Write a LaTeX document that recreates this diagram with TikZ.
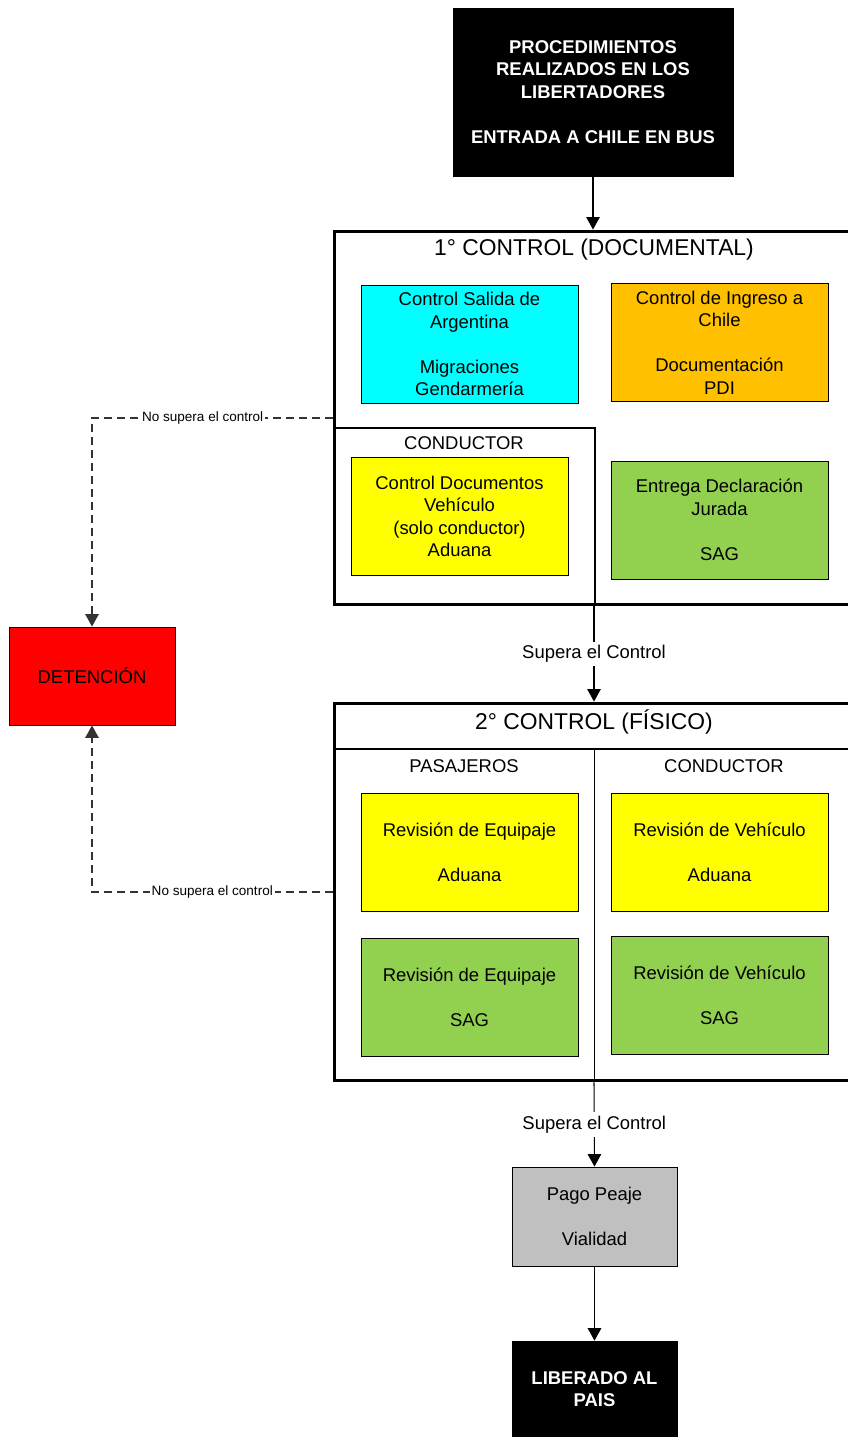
\documentclass[tikz,border=0pt]{standalone}
\usepackage{fontspec}
\setmainfont{Liberation Sans}
\usepackage{tikz}
\usetikzlibrary{positioning}
\usetikzlibrary{arrows.meta}

\definecolor{migcyan}{HTML}{00FFFF}
\definecolor{pdiorange}{HTML}{FFC000}
\definecolor{aduyellow}{HTML}{FFFF00}
\definecolor{saggreen}{HTML}{92D050}
\definecolor{detred}{HTML}{FF0000}
\definecolor{peajegray}{HTML}{C0C0C0}

\newcommand{\boxfont}{\fontsize{10.5pt}{12.8pt}\selectfont}
\newcommand{\titlefont}{\fontsize{13pt}{15pt}\selectfont}
\newcommand{\notefont}{\fontsize{7.7pt}{9pt}\selectfont}

\tikzset{
  agency/.style={draw, line width=0.5pt, minimum width=4.34cm, minimum height=2.36cm,
    align=center, font=\boxfont, inner sep=1pt},
  control/.style={draw, line width=1.7pt, minimum width=10.4cm},
  endbox/.style={draw, fill=black, text=white, align=center, font=\boxfont\bfseries},
  flow/.style={line width=0.6pt, -{Triangle[width=0.27cm,length=0.25cm]}},
  fail/.style={flow, black!80, dash pattern=on 0.16cm off 0.1cm},
  passlabel/.style={fill=white, font=\boxfont, inner sep=2pt},
  faillabel/.style={fill=white, text=black, font=\notefont, inner sep=1pt}
}

\begin{document}
\begin{tikzpicture}[x=0.02cm, y=-0.02cm]
\useasboundingbox (0,0) rectangle (848,1437);

\node[endbox, minimum width=5.6cm, minimum height=3.36cm] (proc) at (593,92)
  {PROCEDIMIENTOS\\REALIZADOS EN LOS\\LIBERTADORES\\[12.8pt]ENTRADA A CHILE EN BUS};

% first control
\node[draw, line width=0.6pt, minimum width=5.22cm, minimum height=3.54cm] (condA) at (464.5,516.5) {};
\node[control, minimum height=7.48cm] (ctrlA) at (594,418) {};
\node[font=\titlefont] (titleA) at (594,250) {1° CONTROL (DOCUMENTAL)};
\node[font=\boxfont] (condlabelA) at (464,443) {CONDUCTOR};
\node[agency, fill=migcyan] (salida) at (469.5,344)
  {Control Salida de\\Argentina\\[12.8pt]Migraciones\\Gendarmería};
\node[agency, fill=pdiorange] (ingreso) at (719.5,342.5)
  {Control de Ingreso a\\Chile\\[12.8pt]Documentación\\PDI};
\node[agency, fill=aduyellow] (docs) at (459.5,516.5)
  {Control Documentos\\Vehículo\\(solo conductor)\\Aduana};
\node[agency, fill=saggreen] (declar) at (719.5,520)
  {Entrega Declaración\\Jurada\\[12.8pt]SAG};

% second control
\node[control, minimum height=7.56cm] (ctrlB) at (594,892) {};
\node[font=\titlefont] (titleB) at (594,722) {2° CONTROL (FÍSICO)};
\draw[line width=0.6pt] (334,749) -- (854,749);
\draw[line width=0.6pt] (594.5,749) -- (594.5,1081);
\node[font=\boxfont] (pasajeros) at (464,766) {PASAJEROS};
\node[font=\boxfont] (condlabelB) at (724,766) {CONDUCTOR};
\node[agency, fill=aduyellow] (equipA) at (469.5,852) {Revisión de Equipaje\\[12.8pt]Aduana};
\node[agency, fill=aduyellow] (vehicA) at (719.5,852) {Revisión de Vehículo\\[12.8pt]Aduana};
\node[agency, fill=saggreen] (equipS) at (469.5,997) {Revisión de Equipaje\\[12.8pt]SAG};
\node[agency, fill=saggreen] (vehicS) at (719.5,995) {Revisión de Vehículo\\[12.8pt]SAG};

\node[agency, fill=peajegray, minimum width=3.3cm, minimum height=1.98cm] (peaje) at (594.5,1216.5)
  {Pago Peaje\\[12.8pt]Vialidad};
\node[endbox, minimum width=3.3cm, minimum height=1.92cm] (liberado) at (594.5,1389)
  {LIBERADO AL\\PAIS};
\node[agency, fill=detred, minimum width=3.32cm, minimum height=1.96cm] (detencion) at (92,676)
  {DETENCIÓN};

% connectors
\draw[flow] (proc.south) -- (proc.south |- ctrlA.north);
\draw[flow] (ctrlA.south) -- node[passlabel] {Supera el Control} (ctrlB.north);
\draw[flow] (ctrlB.south) -- node[passlabel] {Supera el Control} (peaje.north);
\draw[flow] (peaje.south) -- (liberado.north);
\draw[fail] (ctrlA.west) -| node[faillabel, pos=0.27] {No supera el control} (detencion.north);
\draw[fail] (ctrlB.west) -| node[faillabel, pos=0.25] {No supera el control} (detencion.south);
\end{tikzpicture}
\end{document}
